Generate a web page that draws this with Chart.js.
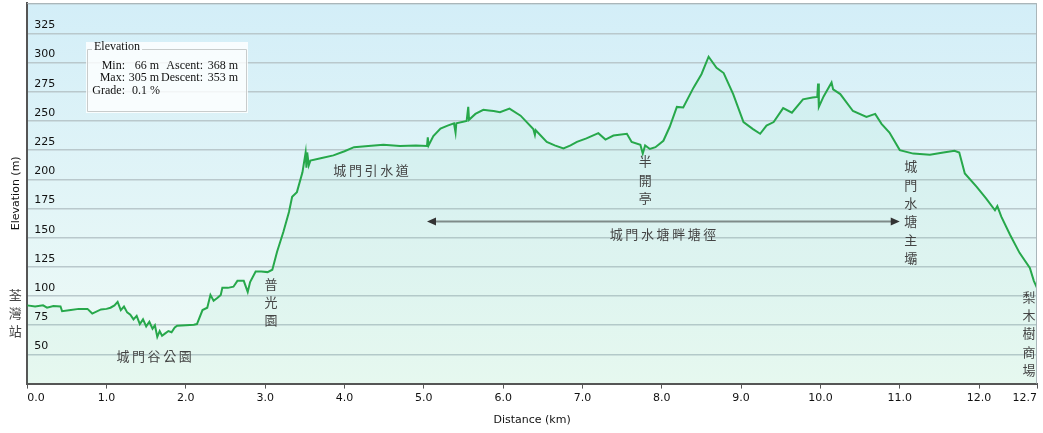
<!DOCTYPE html>
<html lang="zh-Hant">
<head>
<meta charset="UTF-8">
<title>Elevation profile</title>
<script src="https://cdn.jsdelivr.net/npm/chart.js"></script>
<style>
  body { margin: 0; background: #fff; }
</style>
</head>
<body>
<canvas id="myChart" width="1043" height="433"></canvas>
<script>
// distance (km) and elevation (m)
const distKm = [
  0.00, 0.10, 0.20, 0.25, 0.33, 0.42, 0.44, 0.55, 0.65, 0.76, 0.82, 0.93, 1.00, 1.05,
  1.10, 1.14, 1.18, 1.22, 1.26, 1.30, 1.34, 1.38, 1.42, 1.46, 1.50, 1.54, 1.58, 1.61,
  1.64, 1.67, 1.70, 1.74, 1.78, 1.82, 1.86, 1.89, 2.00, 2.10, 2.14, 2.21, 2.27, 2.31,
  2.35, 2.40, 2.44, 2.46, 2.53, 2.60, 2.65, 2.73, 2.78, 2.81, 2.88, 2.95, 3.03, 3.09,
  3.15, 3.23, 3.30, 3.34, 3.40, 3.47, 3.51, 3.52, 3.53, 3.55, 3.57, 3.70, 3.86, 4.00,
  4.12, 4.30, 4.49, 4.70, 4.90, 5.04, 5.05, 5.06, 5.12, 5.21, 5.30, 5.38, 5.40, 5.41,
  5.54, 5.56, 5.57, 5.65, 5.75, 5.82, 5.88, 5.96, 6.08, 6.22, 6.38, 6.40, 6.41, 6.55,
  6.65, 6.76, 6.85, 6.93, 7.05, 7.20, 7.29, 7.39, 7.56, 7.62, 7.73, 7.76, 7.79, 7.85,
  7.92, 8.02, 8.10, 8.19, 8.27, 8.40, 8.50, 8.59, 8.69, 8.78, 8.90, 9.03, 9.15, 9.24,
  9.32, 9.41, 9.53, 9.64, 9.78, 9.90, 9.96, 9.97, 9.98, 10.04, 10.14, 10.16, 10.25,
  10.41, 10.58, 10.69, 10.77, 10.87, 11.00, 11.17, 11.38, 11.55, 11.69, 11.75, 11.82,
  11.97, 12.09, 12.20, 12.23, 12.28, 12.39, 12.51, 12.64, 12.69, 12.73
];
const elevM = [
  92, 91, 92, 90, 91.5, 91, 87, 88, 89, 89, 85, 88.5, 89, 90,
  92, 95, 88, 91, 86, 84, 80, 83, 76, 80, 74, 78, 72, 75,
  65, 70, 66, 68, 70, 69, 73, 74.5, 75, 75.5, 76, 88, 90, 101,
  96, 98.5, 101, 107, 107, 108, 113, 113, 103.5, 112, 121, 121, 120.5, 122.5,
  138, 155, 172, 185, 189, 206, 223, 210, 223, 212, 216, 218, 220.5, 224,
  227.5, 228.5, 229.5, 228.5, 229, 228.5, 236, 229, 237, 243.5, 246, 248, 240, 248,
  250, 262, 251, 256, 259.5, 259, 258.5, 257.5, 260.5, 254.5, 243, 238, 242, 232,
  229, 226.5, 229, 232, 235, 239.5, 234, 237.5, 239, 232, 229.5, 222, 229, 226,
  227.5, 233, 245, 262, 261.5, 278.5, 290, 305, 295.5, 291, 273, 249, 243, 239,
  246, 249, 261, 257, 268.5, 270, 270.5, 282, 262, 271, 283, 277, 273,
  258.5, 253.5, 256, 247.5, 240, 225, 222, 221, 223, 224.5, 223, 205,
  193.5, 183.5, 173.5, 177, 168, 152.5, 137, 124, 113, 107
];

const xTicks = [0, 1, 2, 3, 4, 5, 6, 7, 8, 9, 10, 11, 12, 12.73];
const xTickLabels = ['0.0', '1.0', '2.0', '3.0', '4.0', '5.0', '6.0', '7.0', '8.0', '9.0', '10.0', '11.0', '12.0', '12.7'];
const yGrid = [25, 50, 75, 100, 125, 150, 175, 200, 225, 250, 275, 300, 325, 350];
const yTickLabels = [50, 75, 100, 125, 150, 175, 200, 225, 250, 275, 300, 325];

// place names along the route, anchored in km / m
const notes = [
  { text: '荃灣站', km: -0.151, m: 101, dir: 'v' },
  { text: '城門谷公園', km: 1.60, m: 48.3, dir: 'h' },
  { text: '普光園', km: 3.075, m: 110.5, dir: 'v' },
  { text: '城門引水道', km: 4.335, m: 207.5, dir: 'h' },
  { text: '半開亭', km: 7.79, m: 215.2, dir: 'v' },
  { text: '城門水塘畔塘徑', km: 8.016, m: 153, dir: 'h' },
  { text: '城門水塘主壩', km: 11.14, m: 211, dir: 'v' },
  { text: '梨木樹商場', km: 12.63, m: 99.4, dir: 'v' }
];
const arrowKm = [5.04, 11.0];
const arrowM = 163.9;

const cjkFont = '13px "Noto Sans CJK TC"';
const serifFont = '12px "Liberation Serif"';

const backgroundPlugin = {
  id: 'bg',
  beforeDraw(chart) {
    const { ctx, chartArea: a } = chart;
    const g = ctx.createLinearGradient(0, a.top, 0, a.bottom);
    g.addColorStop(0, '#d3eef8');
    g.addColorStop(1, '#f0fbf6');
    ctx.save();
    ctx.fillStyle = g;
    ctx.fillRect(a.left, a.top, a.right - a.left, a.bottom - a.top);
    ctx.restore();
  }
};

function arrowHead(ctx, tipX, y, dirSign) {
  ctx.beginPath();
  ctx.moveTo(tipX, y);
  ctx.lineTo(tipX - dirSign * 9, y - 4);
  ctx.lineTo(tipX - dirSign * 9, y + 4);
  ctx.closePath();
  ctx.fill();
}

const overlayPlugin = {
  id: 'overlay',
  afterDatasetsDraw(chart) {
    const { ctx, chartArea: a, scales: { x, y } } = chart;
    ctx.save();

    // top / right frame
    ctx.strokeStyle = '#aab6ba';
    ctx.lineWidth = 1;
    ctx.beginPath();
    ctx.moveTo(a.left, a.top + 0.5);
    ctx.lineTo(a.right - 0.5, a.top + 0.5);
    ctx.lineTo(a.right - 0.5, a.bottom);
    ctx.stroke();

    // y tick labels sit inside the plot, just above their grid line
    ctx.font = '11px "DejaVu Sans"';
    ctx.fillStyle = '#111';
    ctx.textAlign = 'left';
    ctx.textBaseline = 'middle';
    yTickLabels.forEach(v => {
      ctx.fillText(String(v), a.left + 7, y.getPixelForValue(v) - 8);
    });

    // stats box
    ctx.fillStyle = 'rgba(255,255,255,0.82)';
    ctx.fillRect(86, 42, 162, 71);
    ctx.font = serifFont;
    const legW = ctx.measureText('Elevation').width;
    ctx.strokeStyle = '#c8cccc';
    ctx.beginPath();
    ctx.moveTo(92, 49.5);
    ctx.lineTo(87.5, 49.5);
    ctx.lineTo(87.5, 111.5);
    ctx.lineTo(246.5, 111.5);
    ctx.lineTo(246.5, 49.5);
    ctx.lineTo(96 + legW, 49.5);
    ctx.stroke();
    ctx.fillStyle = '#111';
    ctx.textAlign = 'left';
    ctx.fillText('Elevation', 94, 47);
    const rows = [
      ['Min:', '66 m', 'Ascent:', '368 m', 66],
      ['Max:', '305 m', 'Descent:', '353 m', 78]
    ];
    ctx.textAlign = 'right';
    rows.forEach(r => {
      ctx.fillText(r[0], 125, r[4]);
      ctx.fillText(r[1], 159, r[4]);
      ctx.fillText(r[2], 203, r[4]);
      ctx.fillText(r[3], 238, r[4]);
    });
    ctx.fillText('Grade:', 125, 91);
    ctx.fillText('0.1 %', 160, 91);

    // place names
    ctx.font = cjkFont;
    ctx.fillStyle = '#444';
    ctx.textAlign = 'center';
    notes.forEach(n => {
      const px = x.getPixelForValue(n.km);
      const py = y.getPixelForValue(n.m);
      const chars = Array.from(n.text);
      chars.forEach((ch, i) => {
        if (n.dir === 'v') {
          ctx.fillText(ch, px, py + i * 18.3);
        } else {
          ctx.fillText(ch, px + (i - (chars.length - 1) / 2) * 15.6, py);
        }
      });
    });

    // double arrow over the reservoir trail
    const ax1 = x.getPixelForValue(arrowKm[0]);
    const ax2 = x.getPixelForValue(arrowKm[1]);
    const ay = y.getPixelForValue(arrowM);
    ctx.strokeStyle = '#7f8b89';
    ctx.lineWidth = 2;
    ctx.beginPath();
    ctx.moveTo(ax1 + 6, ay);
    ctx.lineTo(ax2 - 6, ay);
    ctx.stroke();
    ctx.fillStyle = '#333';
    arrowHead(ctx, ax1, ay, -1);
    arrowHead(ctx, ax2, ay, 1);

    ctx.restore();
  }
};

Chart.defaults.font.family = '"DejaVu Sans", sans-serif';
Chart.defaults.font.size = 11;
Chart.defaults.color = '#111';

new Chart(document.getElementById('myChart'), {
  type: 'line',
  data: {
    datasets: [{
      data: distKm.map((d, i) => ({ x: d, y: elevM[i] })),
      borderColor: '#27a84b',
      borderWidth: 2,
      backgroundColor: 'rgba(110,215,165,0.08)',
      fill: 'start',
      pointRadius: 0,
      tension: 0
    }]
  },
  options: {
    responsive: false,
    animation: false,
    devicePixelRatio: 1,
    layout: { padding: { left: 6, top: 3, right: 6, bottom: 6 } },
    plugins: {
      legend: { display: false },
      tooltip: { enabled: false }
    },
    scales: {
      x: {
        type: 'linear',
        min: 0,
        max: 12.73,
        afterBuildTicks: s => { s.ticks = xTicks.map(v => ({ value: v })); },
        ticks: {
          callback: (v, i) => xTickLabels[i],
          align: 'inner',
          padding: 3,
          maxRotation: 0,
          autoSkip: false
        },
        grid: { drawOnChartArea: false, tickLength: 5, color: '#555' },
        border: { color: '#555', width: 2 },
        title: { display: true, text: 'Distance (km)', padding: { top: 6, bottom: 0 } }
      },
      y: {
        min: 25,
        max: 351,
        afterBuildTicks: s => { s.ticks = yGrid.map(v => ({ value: v })); },
        ticks: { display: false },
        grid: { color: '#b9c8cc', lineWidth: 1.5, drawTicks: false },
        border: { color: '#555', width: 2 },
        title: { display: true, text: 'Elevation (m)', padding: { top: 4, bottom: 4 } }
      }
    }
  },
  plugins: [backgroundPlugin, overlayPlugin]
});
</script>
</body>
</html>
